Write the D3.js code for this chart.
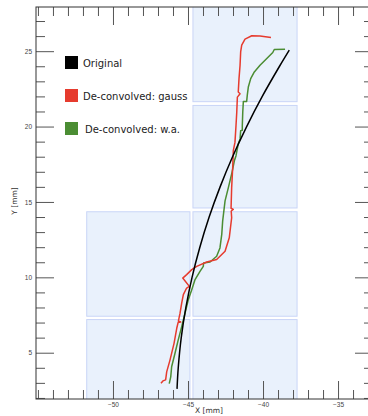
<!DOCTYPE html>
<html>
<head>
<meta charset="utf-8">
<script src="https://cdn.jsdelivr.net/npm/d3@7"></script>
<style>
  body { margin: 0; background: #fff; }
  svg { display: block; font-family: "DejaVu Sans", sans-serif; }
</style>
</head>
<body>
<div id="chart"></div>
<script>
// traced curves, [x mm, y mm]
const original = [
  [-45.73, 2.6], [-45.65, 4], [-45.45, 6], [-45.14, 8], [-44.73, 10],
  [-44.21, 12], [-43.59, 14], [-42.86, 16], [-42.03, 18], [-41.09, 20],
  [-40.05, 22], [-38.9, 24], [-38.25, 25.07]
];
const gauss = [
  [-46.8, 2.97], [-46.67, 3.13], [-46.49, 3.2], [-46.42, 3.73], [-46.2, 4.51],
  [-45.93, 5.62], [-45.75, 6.62], [-45.66, 7.0], [-45.48, 7.03], [-45.64, 7.1],
  [-45.53, 7.62], [-45.42, 8.29], [-45.31, 8.85], [-45.09, 9.29], [-44.91, 9.4],
  [-45.35, 9.95], [-45.09, 10.18], [-44.75, 10.51], [-44.42, 10.73], [-43.75, 11.02],
  [-43.09, 11.18], [-42.53, 11.73], [-42.25, 12.62], [-42.09, 13.95], [-42.12, 14.4],
  [-41.98, 14.5], [-42.13, 14.58], [-42.09, 15.95], [-42.02, 17.29], [-41.98, 18.4],
  [-41.87, 18.95], [-41.8, 20.07], [-41.75, 20.95], [-41.71, 21.95], [-41.53, 22.18],
  [-41.65, 22.29], [-41.6, 23.18], [-41.53, 24.07], [-41.49, 24.95], [-41.42, 25.4],
  [-41.2, 25.8], [-40.75, 26.02], [-40.2, 26.0], [-39.47, 25.91]
];
const weighted = [
  [-46.25, 2.95], [-46.15, 3.4], [-46.09, 4.07], [-45.87, 4.95], [-45.65, 5.85],
  [-45.42, 6.73], [-45.2, 7.62], [-44.98, 8.51], [-44.75, 9.18], [-44.53, 9.85],
  [-44.2, 10.4], [-43.98, 10.73], [-43.96, 10.95], [-43.53, 11.02], [-43.09, 11.4],
  [-42.87, 11.95], [-42.75, 12.85], [-42.69, 13.73], [-42.53, 15.07], [-42.31, 15.95],
  [-42.09, 16.85], [-41.91, 17.73], [-41.8, 18.07], [-41.65, 18.85], [-41.53, 19.18],
  [-41.49, 19.73], [-41.38, 19.75], [-41.38, 20.07], [-41.35, 20.95], [-41.31, 21.67],
  [-41.09, 21.67], [-41.05, 22.07], [-40.98, 22.62], [-40.82, 23.18], [-40.58, 23.62],
  [-40.2, 24.07], [-39.75, 24.51], [-39.35, 24.91], [-39.25, 25.11], [-38.53, 25.13]
];

// background tiles [x0, x1, y0, y1] in mm
const tiles = [
  [-44.67, -37.73, 21.65, 28.5],
  [-44.67, -37.73, 14.6, 21.4],
  [-51.75, -44.87, 7.42, 14.35],
  [-44.67, -37.73, 7.42, 14.35],
  [-51.75, -44.87, 1.5, 7.2],
  [-44.67, -37.73, 1.5, 7.2]
];

const xTicks = [-50, -45, -40, -35];
const yTicks = [5, 10, 15, 20, 25];

const series = [
  { name: 'Original', data: original, color: '#000000' },
  { name: 'De-convolved: gauss', data: gauss, color: '#e63b2e' },
  { name: 'De-convolved: w.a.', data: weighted, color: '#4b8d33' }
];

const W = 368, H = 416;
const svg = d3.select('#chart').append('svg').attr('width', W).attr('height', H);

const plot = { left: 36, right: 373, top: 7, bottom: 399 };
const x = d3.scaleLinear().domain([-55.13, -32.67]).range([plot.left, plot.right]);
const y = d3.scaleLinear().domain([1.93, 27.93]).range([plot.bottom, plot.top]);

svg.append('clipPath').attr('id', 'clip')
  .append('rect')
  .attr('x', plot.left).attr('y', plot.top)
  .attr('width', plot.right - plot.left).attr('height', plot.bottom - plot.top);

const inner = svg.append('g').attr('clip-path', 'url(#clip)');

inner.selectAll('.tile')
  .data(tiles)
  .enter()
  .append('rect')
  .attr('class', 'tile')
  .attr('x', (d) => x(d[0]))
  .attr('y', (d) => y(d[3]))
  .attr('width', (d) => x(d[1]) - x(d[0]))
  .attr('height', (d) => y(d[2]) - y(d[3]))
  .attr('fill', '#e9f1fc')
  .attr('stroke', '#c9d5f7')
  .attr('stroke-width', 1);

const line = d3.line().x((d) => x(d[0])).y((d) => y(d[1]));

inner.selectAll('.curve')
  .data(series.slice().reverse())
  .enter()
  .append('path')
  .attr('class', 'curve')
  .attr('d', (d) => d.name === 'Original' ? line.curve(d3.curveCatmullRom)(d.data) : line.curve(d3.curveLinear)(d.data))
  .attr('fill', 'none')
  .attr('stroke', (d) => d.color)
  .attr('stroke-width', 1.5)
  .attr('stroke-linejoin', 'round');

// ticks: minor every 1 mm, major every 5 mm, all pointing inward
const xMinor = d3.range(Math.ceil(x.domain()[0]), x.domain()[1]).filter((v) => !xTicks.includes(v));
const yMinor = d3.range(Math.ceil(y.domain()[0]), y.domain()[1]).filter((v) => !yTicks.includes(v));

function styleAxis(g) {
  g.select('.domain').remove();
  g.selectAll('.tick line').attr('stroke', '#555').attr('stroke-width', 1);
  g.selectAll('.tick text').attr('fill', '#444').attr('font-size', 6.5);
}

svg.append('g').attr('transform', `translate(0,${plot.bottom})`)
  .call(d3.axisBottom(x).tickValues(xMinor).tickSize(-9).tickFormat(''))
  .call(styleAxis);
svg.append('g').attr('transform', `translate(0,${plot.bottom})`)
  .call(d3.axisBottom(x).tickValues(xTicks).tickSize(-18).tickPadding(3))
  .call(styleAxis);
svg.append('g').attr('transform', `translate(0,${plot.top})`)
  .call(d3.axisTop(x).tickValues(xMinor).tickSize(-9).tickFormat(''))
  .call(styleAxis);
svg.append('g').attr('transform', `translate(0,${plot.top})`)
  .call(d3.axisTop(x).tickValues(xTicks).tickSize(-18).tickFormat(''))
  .call(styleAxis);

svg.append('g').attr('transform', `translate(${plot.left},0)`)
  .call(d3.axisLeft(y).tickValues(yMinor).tickSize(-9).tickFormat(''))
  .call(styleAxis);
svg.append('g').attr('transform', `translate(${plot.left},0)`)
  .call(d3.axisLeft(y).tickValues(yTicks).tickSize(-18).tickPadding(4))
  .call(styleAxis);
svg.append('g').attr('transform', `translate(${plot.right},0)`)
  .call(d3.axisRight(y).tickValues(yMinor).tickSize(-9).tickFormat(''))
  .call(styleAxis);
svg.append('g').attr('transform', `translate(${plot.right},0)`)
  .call(d3.axisRight(y).tickValues(yTicks).tickSize(-18).tickFormat(''))
  .call(styleAxis);

svg.append('rect')
  .attr('x', plot.left).attr('y', plot.top)
  .attr('width', plot.right - plot.left).attr('height', plot.bottom - plot.top)
  .attr('fill', 'none')
  .attr('stroke', '#333')
  .attr('stroke-width', 1);

// axis titles
svg.append('text')
  .attr('x', 209).attr('y', 413)
  .attr('text-anchor', 'middle')
  .attr('font-size', 7.5)
  .attr('fill', '#333')
  .text('X [mm]');

svg.append('text')
  .attr('transform', 'translate(17,201) rotate(-90)')
  .attr('text-anchor', 'middle')
  .attr('font-size', 7.5)
  .attr('fill', '#333')
  .text('Y [mm]');

// legend
const legend = svg.append('g').attr('transform', 'translate(65,56)');
const item = legend.selectAll('.item')
  .data(series)
  .enter()
  .append('g')
  .attr('class', 'item')
  .attr('transform', (d, i) => `translate(0,${i * 33})`);

item.append('rect')
  .attr('width', 13).attr('height', 13)
  .attr('fill', (d) => d.color);

item.append('text')
  .attr('x', (d, i) => i === 2 ? 20 : 18)
  .attr('y', 7)
  .attr('dy', '0.35em')
  .attr('font-size', 10)
  .attr('fill', '#222')
  .text((d) => d.name);
</script>
</body>
</html>
